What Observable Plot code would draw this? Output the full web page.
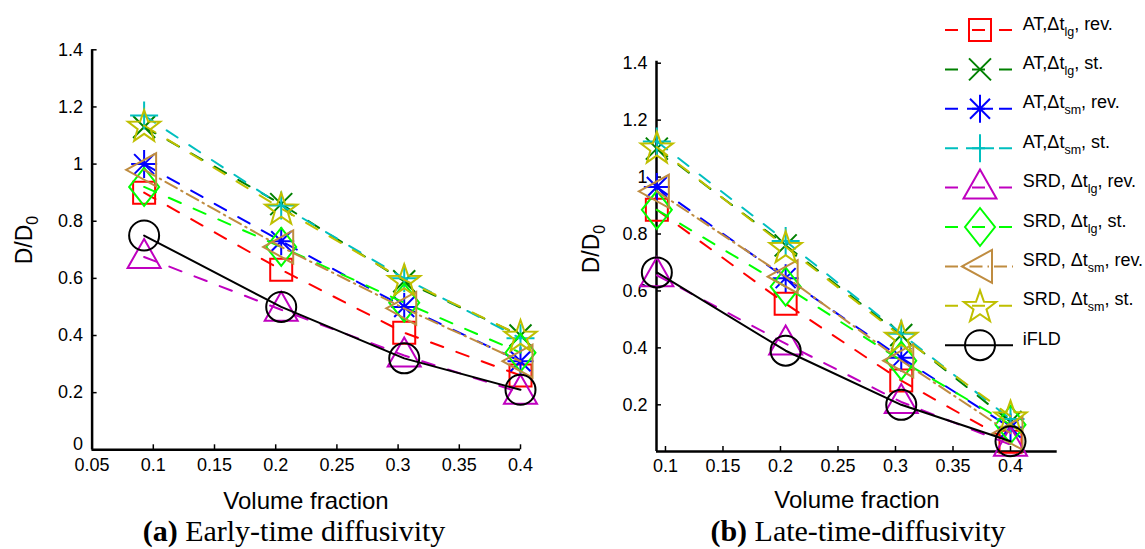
<!DOCTYPE html>
<html><head><meta charset="utf-8">
<script src="https://cdn.jsdelivr.net/npm/d3@7"></script>
<script src="https://cdn.jsdelivr.net/npm/@observablehq/plot@0.6"></script>
<style>
body{margin:0;background:#fff;width:1145px;height:549px;overflow:hidden;position:relative;font-family:"Liberation Sans",Arial,sans-serif;}
.abs{position:absolute;}
</style></head><body>
<div id="left" class="abs" style="left:0;top:0"></div>
<div id="right" class="abs" style="left:560px;top:0"></div>
<svg id="overlay" class="abs" width="1145" height="549" style="left:0;top:0;pointer-events:none"></svg>
<script>
// ---------- data ----------
const volumeFraction = [0.0925, 0.2045, 0.305, 0.4];

const legendPre  = ["AT,\u0394t", "AT,\u0394t", "AT,\u0394t", "AT,\u0394t", "SRD, \u0394t", "SRD, \u0394t", "SRD, \u0394t", "SRD, \u0394t", "iFLD"];
const legendSub  = ["lg", "lg", "sm", "sm", "lg", "lg", "sm", "sm", ""];
const legendPost = [", rev.", ", st.", ", rev.", ", st.", ", rev.", ", st.", ", rev.", ", st.", ""];

// (a) early-time diffusivity
const earlyATlgRev  = [0.90, 0.63, 0.41, 0.26];
const earlyATlgSt   = [1.13, 0.86, 0.59, 0.40];
const earlyATsmRev  = [1.00, 0.73, 0.50, 0.31];
const earlyATsmSt   = [1.17, 0.855, 0.60, 0.39];
const earlySRDlgRev = [0.675, 0.49, 0.33, 0.20];
const earlySRDlgSt  = [0.92, 0.71, 0.515, 0.34];
const earlySRDsmRev = [0.98, 0.71, 0.495, 0.31];
const earlySRDsmSt  = [1.135, 0.845, 0.595, 0.40];
const earlyIFLD     = [0.75, 0.50, 0.32, 0.21];

// (b) late-time diffusivity
const lateATlgRev  = [0.885, 0.555, 0.285, 0.07];
const lateATlgSt   = [1.10, 0.76, 0.445, 0.14];
const lateATsmRev  = [0.965, 0.645, 0.365, 0.12];
const lateATsmSt   = [1.125, 0.775, 0.45, 0.15];
const lateSRDlgRev = [0.655, 0.415, 0.21, 0.06];
const lateSRDlgSt  = [0.885, 0.615, 0.355, 0.13];
const lateSRDsmRev = [0.95, 0.65, 0.355, 0.10];
const lateSRDsmSt  = [1.105, 0.755, 0.44, 0.16];
const lateIFLD     = [0.665, 0.39, 0.20, 0.072];

const earlyXTicks = [0.05, 0.1, 0.15, 0.2, 0.25, 0.3, 0.35, 0.4];
const earlyYTicks = [0, 0.2, 0.4, 0.6, 0.8, 1, 1.2, 1.4];
const lateXTicks  = [0.1, 0.15, 0.2, 0.25, 0.3, 0.35, 0.4];
const lateYTicks  = [0.2, 0.4, 0.6, 0.8, 1, 1.2, 1.4];

// ---------- styles ----------
const colors = ["#ff0000", "#008000", "#0000ff", "#00bfbf", "#bf00bf", "#00ff00", "#bf8c40", "#bfbf00", "#000000"];
const dashes = ["13,14", "13,14", "13,14", "13,14", "13,14", "13,14", "13,5,1.5,5", "13,14", null];

function sym(fn) { return {draw(ctx) { fn(ctx); }}; }
const starPts = (c) => {
  for (let k = 0; k < 10; k++) {
    const a = -Math.PI / 2 + k * Math.PI / 5, r = k % 2 ? 6.8 : 17;
    const px = r * Math.cos(a), py = r * Math.sin(a) + 1.5;
    k ? c.lineTo(px, py) : c.moveTo(px, py);
  }
  c.closePath();
};
const symbols = [
  sym(c => { c.moveTo(-11, -11); c.lineTo(11, -11); c.lineTo(11, 11); c.lineTo(-11, 11); c.closePath(); }),
  sym(c => { c.moveTo(-11, -11); c.lineTo(11, 11); c.moveTo(-11, 11); c.lineTo(11, -11); }),
  sym(c => { c.moveTo(0, -14); c.lineTo(0, 14); c.moveTo(-13, 0); c.lineTo(13, 0); c.moveTo(-10, -10); c.lineTo(10, 10); c.moveTo(-10, 10); c.lineTo(10, -10); }),
  sym(c => { c.moveTo(0, -14); c.lineTo(0, 14); c.moveTo(-14, 0); c.lineTo(14, 0); }),
  sym(c => { c.moveTo(0, -18); c.lineTo(16.5, 11); c.lineTo(-16.5, 11); c.closePath(); }),
  sym(c => { c.moveTo(0, -19); c.lineTo(15, 0); c.lineTo(0, 19); c.lineTo(-15, 0); c.closePath(); }),
  sym(c => { c.moveTo(-18, 0); c.lineTo(12, -16.5); c.lineTo(12, 16.5); c.closePath(); }),
  sym(starPts),
  sym(c => { c.moveTo(15, 0); c.arc(0, 0, 15, 0, 2 * Math.PI); c.closePath(); })
];

const fmt = d => String(Math.round(d * 100) / 100);

function panel(el, cfg) {
  const {width, height, mL, mR, mT, mB, xDom, yDom, xTicks, yTicks, series} = cfg;
  const plotW = width - mL - mR, plotH = height - mT - mB;
  const tyLen = 5 * (yDom[1] - yDom[0]) / plotH;
  const txLen = 5 * (xDom[1] - xDom[0]) / plotW;
  const yMain = yTicks.filter(t => t !== 0);
  const yZero = yTicks.filter(t => t === 0);
  const marks = [
    Plot.ruleX([xDom[0]], {x: d => d, stroke: "black", strokeWidth: 2.5}),
    Plot.ruleY([yDom[0]], {y: d => d, stroke: "black", strokeWidth: 2.5}),
    Plot.ruleX(xTicks, {x: d => d, y1: () => yDom[0], y2: () => yDom[0] + tyLen, stroke: "black", strokeWidth: 1.5}),
    Plot.ruleY(yTicks, {y: d => d, x1: () => xDom[0], x2: () => xDom[0] + txLen, stroke: "black", strokeWidth: 1.5}),
    Plot.axisX(xTicks, {tickSize: 0, tickPadding: 8, fontSize: 18, tickFormat: fmt, label: null, fill: "black"}),
    Plot.axisY(yMain, {tickSize: 0, tickPadding: 9, fontSize: 18, tickFormat: fmt, label: null, fill: "black"})
  ];
  if (yZero.length) {
    marks.push(Plot.axisY(yZero, {tickSize: 0, tickPadding: 9, fontSize: 18, tickFormat: fmt, label: null, fill: "black", dy: -6}));
  }
  series.forEach((vals, i) => {
    const rows = volumeFraction.map((x, j) => ({x, y: vals[j]}));
    const lineOpts = {x: "x", y: "y", stroke: colors[i], strokeWidth: 2};
    if (dashes[i]) lineOpts.strokeDasharray = dashes[i];
    marks.push(Plot.line(rows, lineOpts));
    marks.push(Plot.dot(rows, {x: "x", y: "y", symbol: symbols[i], r: 5, stroke: colors[i], fill: "none", strokeWidth: 2}));
  });
  const chart = Plot.plot({
    width, height, marginLeft: mL, marginRight: mR, marginTop: mT, marginBottom: mB,
    x: {domain: xDom}, y: {domain: yDom},
    style: {fontFamily: '"Liberation Sans", Arial, sans-serif', background: "transparent", overflow: "visible", color: "black"},
    marks
  });
  document.getElementById(el).appendChild(chart);
}

panel("left", {
  width: 560, height: 480, mL: 91.6, mR: 40, mT: 49.3, mB: 30.7,
  xDom: [0.05, 0.4], yDom: [0, 1.4], xTicks: earlyXTicks, yTicks: earlyYTicks,
  series: [earlyATlgRev, earlyATlgSt, earlyATsmRev, earlyATsmSt, earlySRDlgRev, earlySRDlgSt, earlySRDsmRev, earlySRDsmSt, earlyIFLD]
});
panel("right", {
  width: 585, height: 480, mL: 96, mR: 88.3, mT: 60.7, mB: 29,
  xDom: [0.0922, 0.4406], yDom: [0.036, 1.407], xTicks: lateXTicks, yTicks: lateYTicks,
  series: [lateATlgRev, lateATlgSt, lateATsmRev, lateATsmSt, lateSRDlgRev, lateSRDlgSt, lateSRDsmRev, lateSRDsmSt, lateIFLD]
});

// ---------- labels, captions, legend ----------
const ov = d3.select("#overlay");
const sans = '"Liberation Sans", Arial, sans-serif';
const serif = '"Liberation Serif", "Times New Roman", serif';

[[306, 509], [857, 508]].forEach(([x, y]) => {
  ov.append("text").attr("x", x).attr("y", y).attr("text-anchor", "middle")
    .attr("font-family", sans).attr("font-size", 24).text("Volume fraction");
});
[[31.5, 240], [598.5, 249]].forEach(([x, y]) => {
  const t = ov.append("text").attr("transform", `translate(${x},${y}) rotate(-90)`)
    .attr("text-anchor", "middle").attr("font-family", sans).attr("font-size", 23);
  t.append("tspan").text("D/D");
  t.append("tspan").attr("dy", 6).attr("font-size", 16).text("0");
});
[[294, 541, "(a)", " Early-time diffusivity"], [858, 541, "(b)", " Late-time-diffusivity"]].forEach(([x, y, a, b]) => {
  const t = ov.append("text").attr("x", x).attr("y", y).attr("text-anchor", "middle")
    .attr("font-family", serif).attr("font-size", 30);
  t.append("tspan").attr("font-weight", "bold").text(a);
  t.append("tspan").text(b);
});

const lg = ov.append("g");
legendPre.forEach((pre, i) => {
  const y = 30 + i * 39.4;
  const ln = lg.append("line").attr("x1", 945).attr("x2", 1013).attr("y1", y).attr("y2", y)
    .attr("stroke", colors[i]).attr("stroke-width", 2);
  if (dashes[i]) ln.attr("stroke-dasharray", dashes[i]);
  const p = d3.path();
  symbols[i].draw(p);
  lg.append("path").attr("d", p.toString()).attr("transform", `translate(980,${y})`)
    .attr("fill", "none").attr("stroke", colors[i]).attr("stroke-width", 2);
  const t = lg.append("text").attr("x", 1022.7).attr("y", y - 0.5).attr("font-family", sans).attr("font-size", 18);
  t.append("tspan").text(pre);
  if (legendSub[i]) {
    t.append("tspan").attr("dy", 6).attr("font-size", 12.5).text(legendSub[i]);
    t.append("tspan").attr("dy", -6).text(legendPost[i]);
  }
});
</script>
</body></html>
